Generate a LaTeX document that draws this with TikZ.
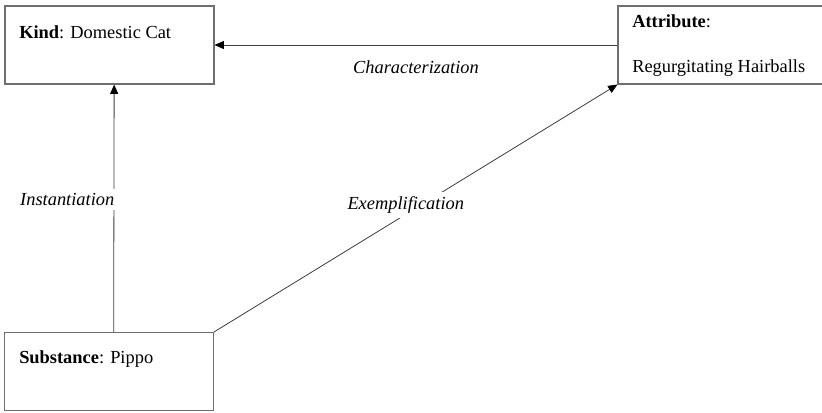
\documentclass[tikz,border=0pt]{standalone}
\usepackage{fontspec}
\setmainfont{Liberation Serif}
\usepackage{tikz}
\usetikzlibrary{arrows.meta,positioning}

\definecolor{boxgray}{RGB}{110,110,110}
\definecolor{linegray}{RGB}{60,60,60}

\tikzset{
  box/.style={draw=boxgray,thick,minimum width=156.75pt,minimum height=58.5pt,inner sep=0pt},
  txt/.style={anchor=base west,inner sep=0pt,font=\rmfamily\fontsize{13.8}{16}\selectfont},
  rel/.style={->,>={Triangle[length=7pt,width=6pt,color=black]},draw=linegray,semithick},
  relname/.style={fill=white,font=\rmfamily\itshape\fontsize{13.8}{16}\selectfont}
}

\begin{document}
\begin{tikzpicture}[x=0.75pt,y=-0.75pt]
    \useasboundingbox (0,0) rectangle (822,412);
    % the three boxes
    \node[box] (K) at (109.5,45)  {};
    \node[box] (A) at (722.5,45)  {};
    \node[box] (S) at (109,371.5) {};
    % their texts
    \node[txt] (Ktxt)  at (19,38.5)  {\textbf{Kind}: Domestic Cat};
    \node[txt] (Atxt)  at (632,27)   {\textbf{Attribute}:};
    \node[txt] (Atxt2) at (632,72)   {Regurgitating Hairballs};
    \node[txt] (Stxt)  at (19,363)   {\textbf{Substance}: Pippo};
    \path
      (A.west) edge[rel] node[relname, yshift=-16.5pt] {Characterization} (K.east)
      ([xshift=3.5]S.north) edge[rel] node[relname, xshift=-35pt, yshift=6.4pt] {Instantiation} ([xshift=3.5]K.south)
      (S.north east) edge[rel] node[relname, xshift=-7.5pt, yshift=2.6pt] {Exemplification} (A.south west);
  \end{tikzpicture}
\end{document}
